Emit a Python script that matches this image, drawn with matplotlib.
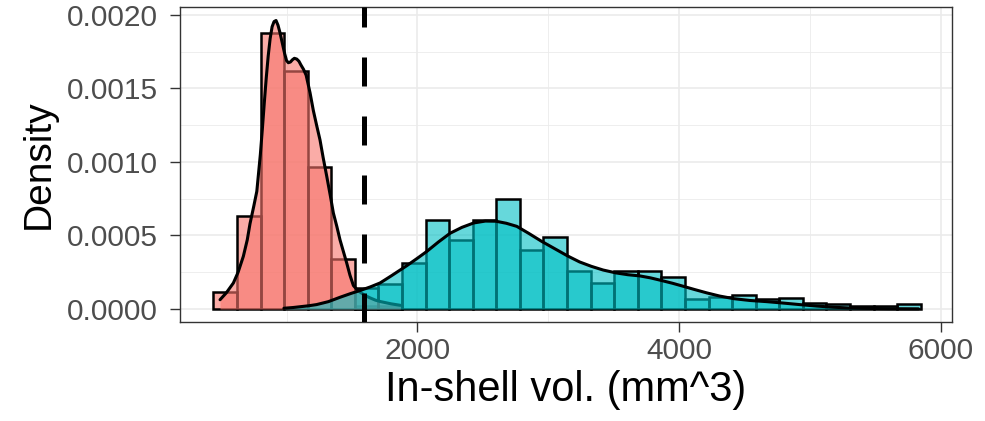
import numpy as np
import matplotlib
matplotlib.use("Agg")
import matplotlib.pyplot as plt

plt.rcParams['font.family'] = ['Liberation Sans', 'DejaVu Sans']

# histogram binning (30 bins over the pooled data range)
hist_min, hist_max = 441, 5847
edges = np.linspace(hist_min, hist_max, 31)

# density per bin (x 1e-3)
red_hist = [0.116, 0.635, 1.878, 1.616, 0.963, 0.340, 0.02, 0.02] + [0] * 22
teal_hist = [0, 0, 0, 0, 0, 0,
             0.14, 0.17, 0.31, 0.607, 0.47, 0.605, 0.748, 0.40, 0.49, 0.26,
             0.18, 0.26, 0.255, 0.215, 0.07, 0.08, 0.097, 0.065, 0.075, 0.04,
             0.035, 0.018, 0.018, 0.034]

# kernel density curves (x in mm^3, y x 1e-3)
red_kde_x = [492, 540, 594, 630, 670, 700, 721, 750, 773, 800, 815, 830, 845,
             860, 875, 890, 905, 920, 935, 950, 965, 985, 1000, 1014, 1030,
             1045, 1060, 1078, 1095, 1110, 1130, 1150, 1165, 1180, 1205, 1230,
             1256, 1280, 1308, 1335, 1358, 1385, 1409, 1435, 1460, 1485, 1511,
             1535, 1562, 1600, 1640, 1680, 1720, 1800, 1870]
red_kde_y = [0.063, 0.11, 0.177, 0.25, 0.358, 0.47, 0.58, 0.70, 0.80, 1.05,
             1.22, 1.40, 1.57, 1.72, 1.84, 1.92, 1.955, 1.962, 1.93, 1.88, 1.82,
             1.74, 1.69, 1.675, 1.68, 1.695, 1.705, 1.70, 1.685, 1.66, 1.63,
             1.59, 1.53, 1.47, 1.35, 1.25, 1.15, 1.03, 0.90, 0.77, 0.653, 0.56,
             0.47, 0.39, 0.313, 0.23, 0.16, 0.135, 0.115, 0.092, 0.075, 0.06,
             0.05, 0.035, 0.025]
teal_kde_x = [980, 1050, 1100, 1170, 1230, 1320, 1410, 1490, 1560, 1640, 1715,
              1800, 1860, 1920, 2000, 2070, 2160, 2250, 2340, 2430, 2520, 2600,
              2680, 2760, 2850, 2950, 3050, 3150, 3240, 3330, 3420, 3520, 3610,
              3700, 3780, 3860, 3950, 4030, 4120, 4210, 4310, 4420, 4540, 4670,
              4800, 4920, 5050, 5180, 5300, 5430, 5600, 5830]
teal_kde_y = [0.005, 0.01, 0.015, 0.022, 0.03, 0.05, 0.08, 0.105, 0.125, 0.15,
              0.177, 0.225, 0.26, 0.295, 0.345, 0.39, 0.455, 0.515, 0.555, 0.585,
              0.598, 0.597, 0.583, 0.562, 0.515, 0.46, 0.41, 0.36, 0.32, 0.29,
              0.265, 0.245, 0.233, 0.225, 0.212, 0.195, 0.175, 0.155, 0.132, 0.11,
              0.088, 0.07, 0.058, 0.05, 0.04, 0.03, 0.02, 0.012, 0.007, 0.004,
              0.002, 0.001]

cutoff = 1593

red = '#F8766D'
teal = '#00BFC4'

fig = plt.figure(figsize=(9.85, 4.21), dpi=100)
ax = fig.add_axes([180 / 985, 99 / 421, 772 / 985, 315 / 421])

lefts = edges[:-1]
w = edges[1] - edges[0]
for vals, col in [(red_hist, red), (teal_hist, teal)]:
    v = np.array(vals) * 1e-3
    m = v > 0
    ax.bar(lefts[m], v[m], width=w, align='edge', color=col, alpha=0.6,
           edgecolor='none', zorder=2)
    ax.bar(lefts[m], v[m], width=w, align='edge', fill=False,
           edgecolor='black', linewidth=1.8, zorder=2)

z = 3
for xs, ys, col in [(red_kde_x, red_kde_y, red), (teal_kde_x, teal_kde_y, teal)]:
    ys = np.array(ys) * 1e-3
    ax.fill_between(xs, 0, ys, color=col, alpha=0.6, linewidth=0, zorder=z)
    ax.plot(xs, ys, color='black', linewidth=2.2, zorder=z + 0.5,
            solid_joinstyle='round', solid_capstyle='round')
    z += 1

vl = ax.axvline(cutoff, color='black', linewidth=3.6, zorder=10)
vl.set_dashes((5.8, 6.0))

ax.set_xlim(186, 6086)
ax.set_ylim(-0.0000885, 0.002054)
ax.set_xticks([2000, 4000, 6000])
ax.set_xticks([1000, 3000, 5000], minor=True)
ax.set_yticks([0, 0.0005, 0.001, 0.0015, 0.002])
ax.set_yticklabels(['0.0000', '0.0005', '0.0010', '0.0015', '0.0020'])
ax.set_yticks(np.arange(0.00025, 0.002, 0.0005), minor=True)

ax.grid(which='major', color='#EBEBEB', linewidth=1.2, zorder=0)
ax.grid(which='minor', color='#EBEBEB', linewidth=0.6, zorder=0)
ax.set_axisbelow(True)
for s in ax.spines.values():
    s.set_color('#333333')
    s.set_linewidth(1.0)
ax.tick_params(which='major', length=7, width=1.0, color='#333333',
               labelcolor='#4D4D4D', labelsize=21.5)
ax.tick_params(axis='y', pad=9)
ax.tick_params(axis='x', pad=4)
ax.tick_params(which='minor', length=0)

ax.set_xlabel('In-shell vol. (mm^3)', fontsize=30)
ax.set_ylabel('Density', fontsize=28)
ax.xaxis.set_label_coords(0.5, -0.152)
ax.yaxis.set_label_coords(-0.16, 0.5)

fig.savefig('out.png', dpi=100)
